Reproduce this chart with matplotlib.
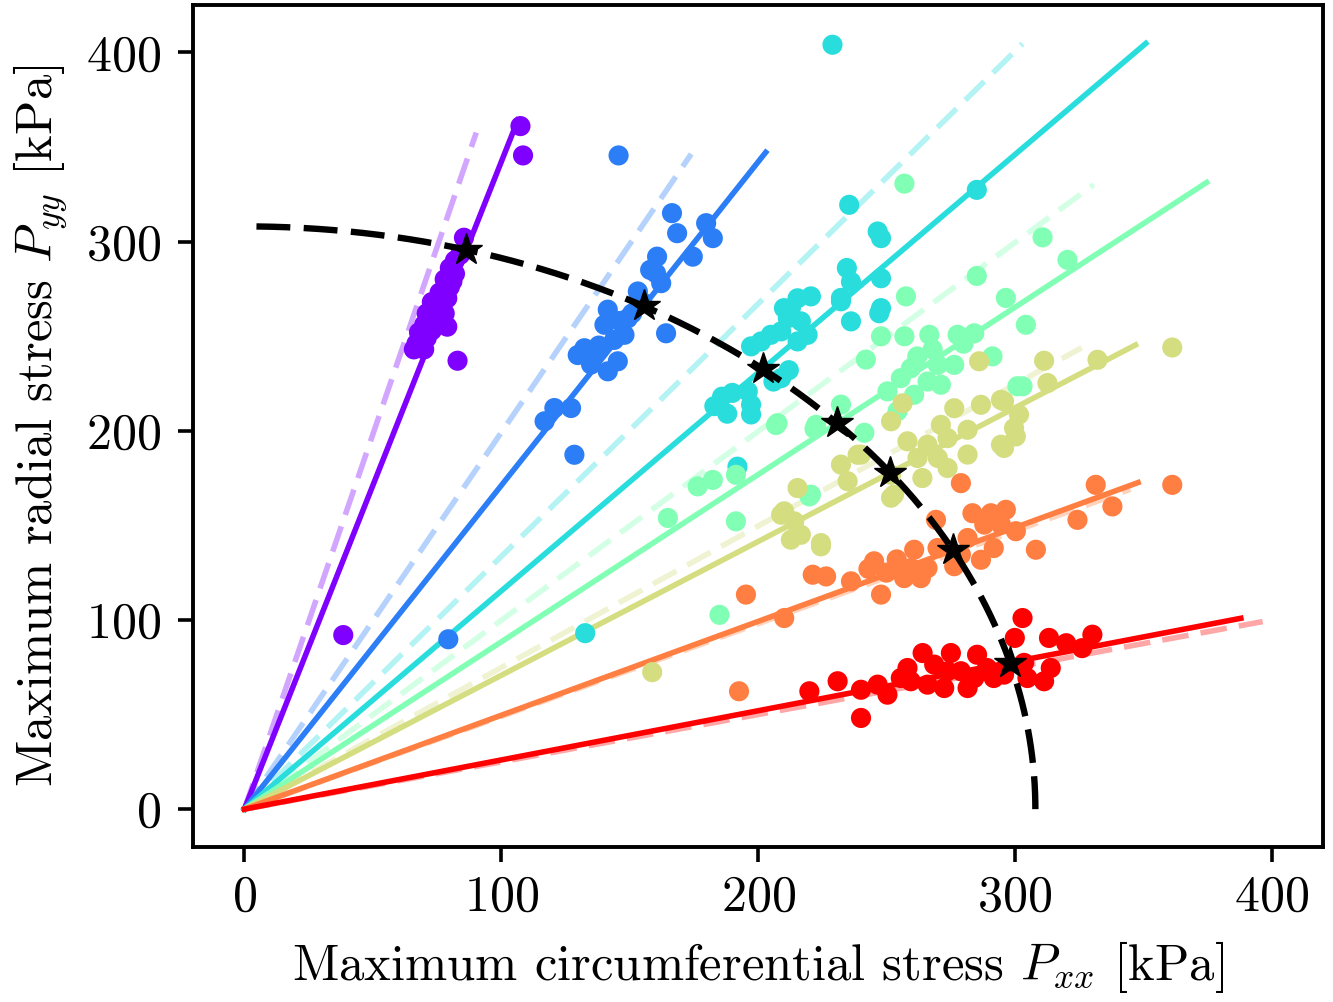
import numpy as np
import matplotlib
matplotlib.use("Agg")
import matplotlib.pyplot as plt

plt.rcParams['font.family'] = 'serif'
plt.rcParams['font.serif'] = ['cmr10', 'DejaVu Serif']
plt.rcParams['mathtext.fontset'] = 'cm'
plt.rcParams['axes.formatter.use_mathtext'] = True

# ---------------- data ----------------
purple_x = [107.5, 108.5, 85.5, 83, 38.5, 84, 82, 80, 82, 78, 80, 76, 79, 73, 77, 71, 75, 70, 73, 68, 71, 67, 74, 70, 77, 81, 72, 69, 75, 78, 66, 79]
purple_y = [361, 345.5, 302, 237, 92, 293, 290, 286, 283, 280, 276, 273, 270, 268, 265, 262, 259, 256, 253, 252, 249, 246, 256, 243, 270, 279, 260, 248, 266, 262, 243, 255]

blue_x = [145.7, 166.5, 168.5, 179.8, 182.4, 160.7, 174.6, 160.3, 162.3, 153.2, 164.2, 141.5, 149.3, 140.2, 148, 132.4, 136.3, 145.4, 141.5, 135, 129.8, 120.7, 127.2, 116.9, 128.5, 79.4, 155, 151, 144, 138, 158, 146]
blue_y = [345.5, 315, 304.4, 309.7, 301.8, 292, 292, 283.2, 278, 273.6, 251.5, 264, 259.4, 256, 250.7, 243.6, 240, 236.7, 231.4, 235, 240, 212, 212, 205, 187.3, 89.8, 268, 262, 248, 245, 285, 258]

cyan_x = [229, 235.5, 246.6, 247.9, 285.2, 234.6, 236.2, 247.9, 215.4, 220.6, 210.1, 232.3, 247.9, 212.8, 211.6, 216.7, 236.2, 247.2, 232.3, 209, 205, 219.3, 215.4, 197.3, 201.2, 209, 196, 197.3, 197.3, 192, 132.7, 183, 186, 190, 188, 206, 212]
cyan_y = [404, 319.4, 305.3, 301.8, 327.3, 286, 278.7, 280.6, 270, 271, 264.8, 268.4, 264.8, 264.8, 259.5, 257.8, 257.8, 262.1, 270.2, 252.5, 250.7, 250.7, 247.2, 244.6, 247.2, 227.8, 220.8, 213.8, 208.6, 181, 93, 213, 218, 220, 209, 226, 232]

green_x = [257, 285.2, 257.6, 296.5, 247.9, 257, 266.7, 277.7, 284.2, 262, 259.5, 270, 276.4, 291.3, 242, 255.6, 266, 271.2, 250.4, 260.8, 254.3, 207.6, 222.6, 232.3, 241.4, 301, 220.6, 310.8, 320.5, 304.3, 303, 207, 222, 176.5, 182.4, 191.4, 164.9, 191.4, 220, 185, 268, 280]
green_y = [330.6, 281.8, 271, 270.2, 249.9, 249.9, 250.7, 250.7, 251.5, 239.3, 233, 234.8, 234.8, 239.3, 237.6, 227.8, 226, 224.3, 220.8, 219, 210.3, 204, 203.1, 213.8, 198.9, 223.5, 166.2, 302.2, 290.3, 256, 223.5, 203, 201, 170.6, 174, 176.7, 153.9, 152.1, 165.3, 102.7, 243, 246]

yellow_x = [286.1, 256.3, 276.4, 286.8, 294.6, 251.8, 271.2, 281.6, 299.7, 258.2, 266, 273.8, 294.6, 262.1, 270, 281.6, 273.8, 251.8, 240.1, 232.3, 234.9, 253, 215.4, 210.2, 214.1, 216.7, 224.5, 264, 361.3, 332.2, 311.4, 312.7, 295.8, 301.6, 300.4, 295.8, 209, 212.8, 224.5, 238.8, 251.8, 158.8]
yellow_y = [236.7, 214.5, 211.9, 213.7, 216.3, 205, 203.1, 200.5, 201.4, 194.4, 192.6, 196.1, 192.6, 185.6, 185.6, 187.4, 180.3, 176.7, 187.4, 182.1, 173.3, 166.2, 169.7, 157.4, 152.1, 145, 140.6, 175, 244, 237.5, 237, 225.2, 215.5, 208.5, 197, 190.9, 155.6, 142.4, 138.9, 187.3, 164.6, 72.4]

orange_x = [331.5, 338, 324.4, 308.2, 279, 269.3, 283.5, 290.7, 296.5, 300.4, 294.6, 288.1, 281.6, 291.8, 286.8, 279, 276.4, 269.9, 260.8, 259.5, 266, 256.9, 263.4, 361.3, 245.2, 221.3, 226.5, 236.2, 247.9, 195.3, 210.2, 192.6, 250, 243, 254]
orange_y = [171.4, 160, 152.9, 137.1, 172.3, 152.9, 156.4, 156.4, 158.2, 146.9, 150.4, 150.4, 143.3, 138, 131.8, 134.5, 128.4, 138, 137.1, 127.4, 127.4, 122.1, 122.1, 171.4, 131, 123.9, 123, 120.4, 113.4, 113.4, 101, 62.3, 125, 127, 132]

red_x = [303, 313.3, 300, 330.2, 326.2, 314, 311.4, 304.9, 303.6, 295.8, 291.8, 285.3, 289.2, 275.1, 264.1, 258.2, 268.6, 279, 281.6, 272.5, 266, 259.5, 255.6, 250.4, 240.1, 231, 220, 240.1, 273.8, 284.2, 246.6, 320]
red_y = [101, 90.5, 90.5, 92.2, 85.1, 74.6, 67.6, 69.3, 77.3, 71.1, 69.3, 81.6, 74.6, 82.5, 82.5, 74.6, 76.4, 72.9, 64, 64, 65.8, 67.6, 69.3, 60.5, 63.1, 67.6, 62.3, 48.2, 72.9, 69.3, 65.8, 87.7]

# fitted (solid) and reference (dashed) lines through the origin
fit_slope = [3.42, 1.71, 1.153, 0.884, 0.707, 0.496, 0.26]
fit_xmax = [106.5, 203, 351, 374.7, 347, 348, 388]
ref_slope = [3.96, 1.99, 1.335, 0.998, 0.748, 0.49, 0.25]
ref_xmax = [90.3, 174, 303, 330.7, 326, 345, 396.5]

# failure envelope (quarter circle)
envelope_radius = 308
envelope_x_start = 4.7

series_x = [purple_x, blue_x, cyan_x, green_x, yellow_x, orange_x, red_x]
series_y = [purple_y, blue_y, cyan_y, green_y, yellow_y, orange_y, red_y]

# ---------------- plot ----------------
fig = plt.figure(figsize=(13.33, 10.02), dpi=100)
ax = fig.add_axes([0.1448, 0.1547, 0.8477, 0.8403])

colors = plt.cm.rainbow(np.linspace(0, 1, len(series_x)))
lw = 4.0

for i, c in enumerate(colors):
    xr = np.array([0, ref_xmax[i]])
    ax.plot(xr, ref_slope[i] * xr, color=c, alpha=0.35, lw=lw,
            dashes=(4.8, 2.2), zorder=2)
for i, c in enumerate(colors):
    xf = np.array([0, fit_xmax[i]])
    ax.plot(xf, fit_slope[i] * xf, color=c, lw=lw, zorder=2.5)
for i, c in enumerate(colors):
    ax.scatter(series_x[i], series_y[i], s=210, color=c, edgecolors='none', zorder=3)

th0 = np.arccos(envelope_x_start / envelope_radius)
th = np.linspace(th0, 0, 400)
ax.plot(envelope_radius * np.cos(th), envelope_radius * np.sin(th), color='black',
        lw=4.6, dashes=(5.3, 2.1), zorder=4)

theta_s = np.arctan(np.array(fit_slope))
ax.plot(envelope_radius * np.cos(theta_s), envelope_radius * np.sin(theta_s), '*',
        color='black', markersize=24, zorder=5)

ax.set_xlim(-20, 420)
ax.set_ylim(-20, 425)
ax.set_xticks([0, 100, 200, 300, 400])
ax.set_yticks([0, 100, 200, 300, 400])
ax.tick_params(labelsize=36, width=2.6, length=11, direction='out')
ax.tick_params(axis='x', pad=9)
ax.tick_params(axis='y', pad=12)
for sp in ax.spines.values():
    sp.set_linewidth(2.8)

ax.set_xlabel(r'Maximum circumferential stress $P_{xx}$ [kPa]', fontsize=36.5, labelpad=13)
ax.set_ylabel(r'Maximum radial stress $P_{yy}$ [kPa]', fontsize=36.5, labelpad=12)

fig.savefig('out.png', dpi=100)
